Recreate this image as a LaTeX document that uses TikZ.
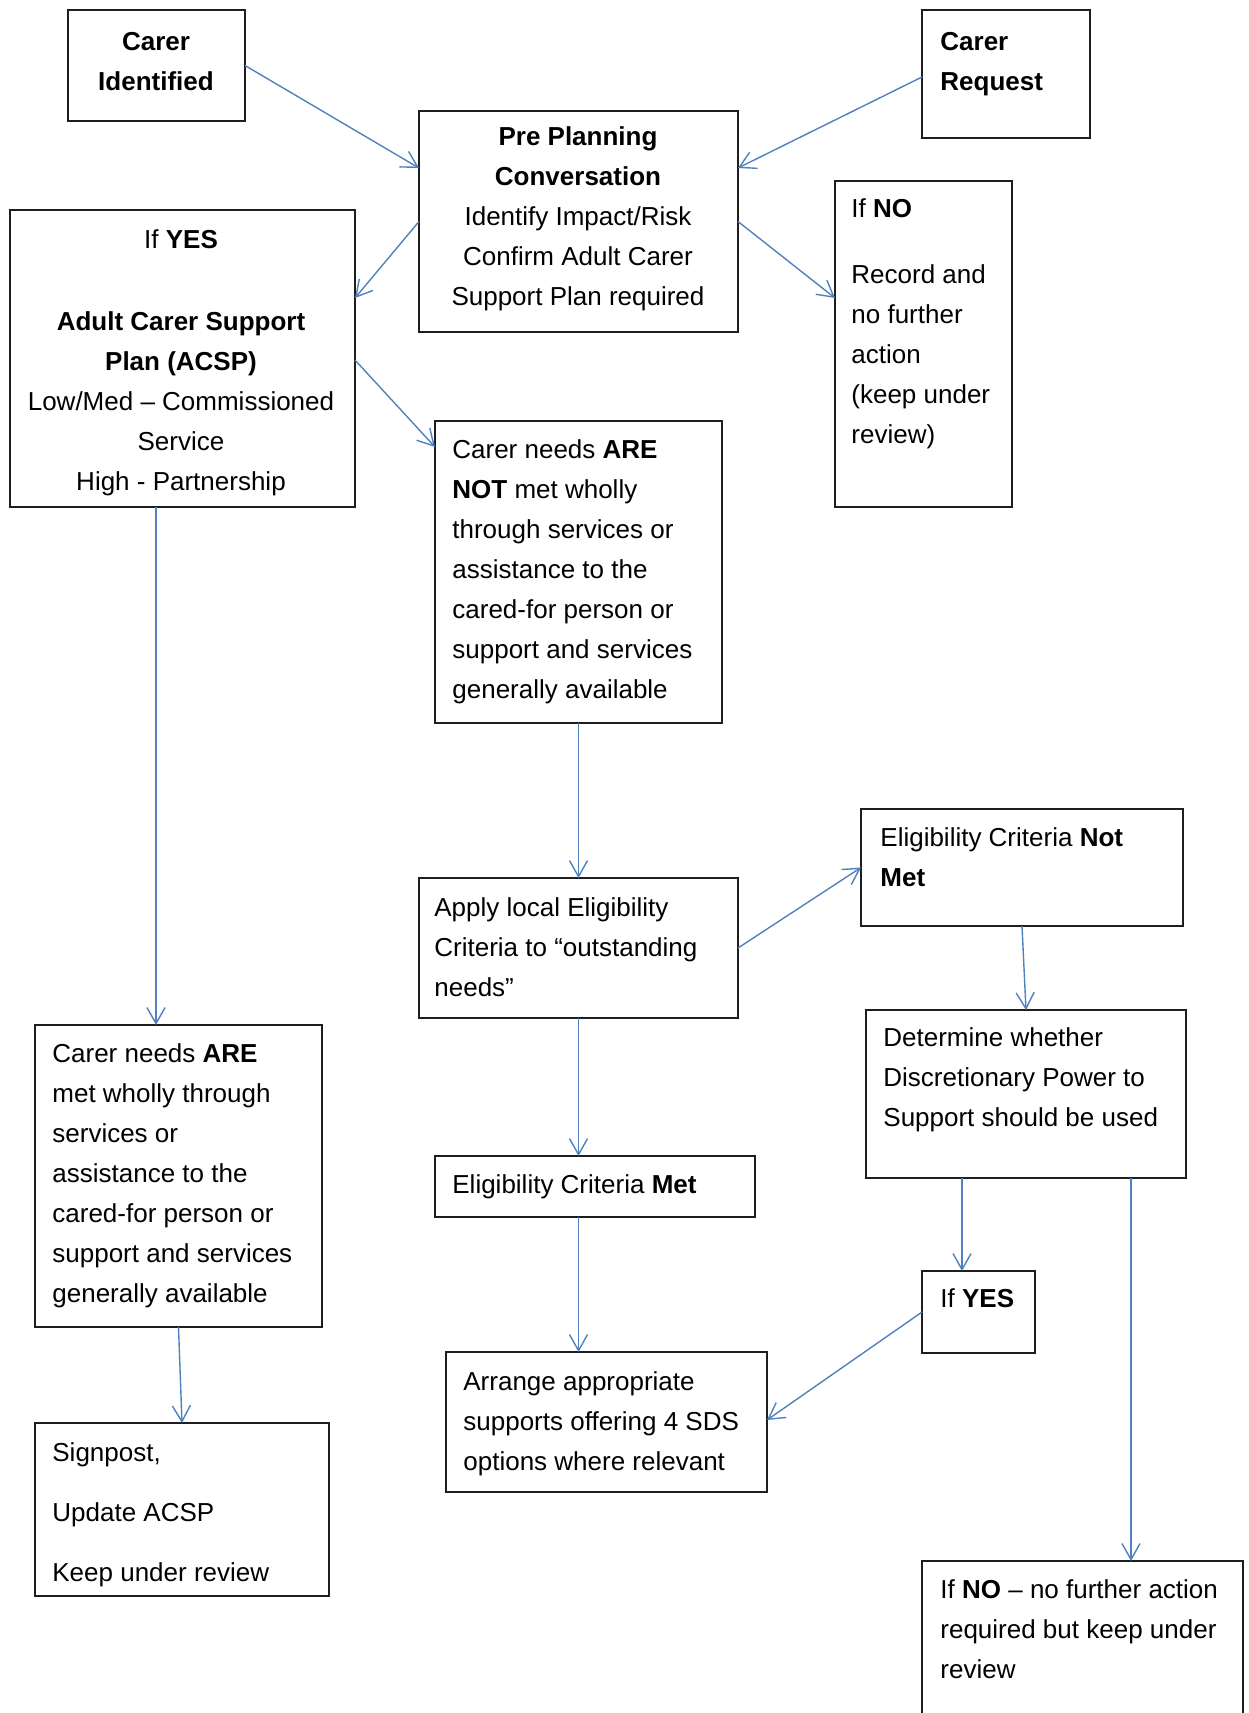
\documentclass[tikz,border=0pt]{standalone}
\usepackage{fontspec}
\setmainfont{Liberation Sans}
\usetikzlibrary{arrows.meta}
\definecolor{boxc}{RGB}{30,30,30}
\definecolor{arrc}{RGB}{79,129,189}
\newcommand\mkbox[5]{\node[box,anchor=north west,minimum width={(#4-#2)*0.5pt},minimum height={(#5-#3)*0.5pt}] (#1) at (#2,#3) {};}
\begin{document}
\begin{tikzpicture}[x=0.5pt,y=-0.5pt,
  box/.style={draw=boxc,line width=1pt,rectangle,inner sep=0pt,outer sep=0pt},
  txt/.style={inner sep=0pt,font=\fontsize{13}{20}\selectfont,anchor=north west,align=left},
  ctxt/.style={txt,anchor=north,align=center},
  arr/.style={draw=arrc,line width=0.7pt,-{Straight Barb[length=8pt,width=9pt]}}]
\useasboundingbox (0,0) rectangle (1248,1713);
\clip (0,0) rectangle (1248,1713);
% boxes
\mkbox{ci}{68}{10}{245}{121}
\mkbox{cr}{922}{10}{1090}{138}
\mkbox{pp}{419}{111}{738}{332}
\mkbox{acsp}{10}{210}{355}{507}
\mkbox{ifno}{835}{181}{1012}{507}
\mkbox{arenot}{435}{421}{722}{723}
\mkbox{apply}{419}{878}{738}{1018}
\mkbox{notmet}{861}{809}{1183}{926}
\mkbox{det}{866}{1010}{1186}{1178}
\mkbox{met}{435}{1156}{755}{1217}
\mkbox{are}{35}{1025}{322}{1327}
\mkbox{ifyes}{922}{1271}{1035}{1353}
\mkbox{arng}{446}{1352}{767}{1492}
\mkbox{sign}{35}{1423}{329}{1596}
\mkbox{nofin}{922}{1561}{1243}{1760}
% texts
\node[ctxt] (t-ci) at (156,22) {\strut\textbf{Carer}\\\textbf{Identified}};
\node[txt] (t-cr) at (940,22) {\strut\textbf{Carer}\\\textbf{Request}};
\node[ctxt] (t-pp) at (578,117) {\strut\textbf{Pre Planning}\\\textbf{Conversation}\\Identify Impact/Risk\\Confirm Adult Carer\\Support Plan required};
\node[ctxt] (t-acsp) at (181,220) {\strut If \textbf{YES}\\[21pt]\textbf{Adult Carer Support}\\\textbf{Plan (ACSP)}\\Low/Med – Commissioned\\Service\\High - Partnership};
\node[txt] (t-ifno) at (851,189) {\strut If \textbf{NO}\\[13pt]Record and\\no further\\action\\(keep under\\review)};
\node[txt] (t-arenot) at (452,430) {\strut Carer needs \textbf{ARE}\\\textbf{NOT} met wholly\\through services or\\assistance to the\\cared-for person or\\support and services\\generally available};
\node[txt] (t-apply) at (434,888) {\strut Apply local Eligibility\\Criteria to “outstanding\\needs”};
\node[txt] (t-notmet) at (880,818) {\strut Eligibility Criteria \textbf{Not}\\\textbf{Met}};
\node[txt] (t-det) at (883,1018) {\strut Determine whether\\Discretionary Power to\\Support should be used};
\node[txt] (t-met) at (452,1165) {\strut Eligibility Criteria \textbf{Met}};
\node[txt] (t-ifyes) at (940,1279) {\strut If \textbf{YES}};
\node[txt] (t-arng) at (463,1362) {\strut Arrange appropriate\\supports offering 4 SDS\\options where relevant};
\node[txt] (t-are) at (52,1034) {\strut Carer needs \textbf{ARE}\\met wholly through\\services or\\assistance to the\\cared-for person or\\support and services\\generally available};
\node[txt] (t-sign) at (52,1433) {\strut Signpost,\\[10pt]Update ACSP\\[10pt]Keep under review};
\node[txt] (t-nofin) at (940,1570) {\strut If \textbf{NO} – no further action\\required but keep under\\review};
% connectors
\draw[arr] (ci.east) -- (pp.west |- 0,168);
\draw[arr] (cr.west |- 0,77) -- (pp.east |- 0,168);
\draw[arr] (pp.west) -- (acsp.east |- 0,298);
\draw[arr] (pp.east) -- (ifno.west |- 0,298);
\draw[arr] (acsp.east |- 0,360) -- (arenot.west |- 0,447);
\draw[arr] (arenot.south) -- (apply.north);
\draw[arr] (acsp.south -| 156,0) -- (are.north -| 156,0);
\draw[arr] (apply.east) -- (notmet.west);
\draw[arr] (notmet.south) -- (det.north);
\draw[arr] (apply.south) -- (apply.south |- met.north);
\draw[arr] (met.south -| apply.south) -- (arng.north -| apply.south);
\draw[arr] (det.south -| 962,0) -- (ifyes.north -| 962,0);
\draw[arr] (det.south -| 1131,0) -- (nofin.north -| 1131,0);
\draw[arr] (ifyes.west) -- (arng.east |- 0,1420);
\draw[arr] (are.south) -- (sign.north);
\end{tikzpicture}
\end{document}
